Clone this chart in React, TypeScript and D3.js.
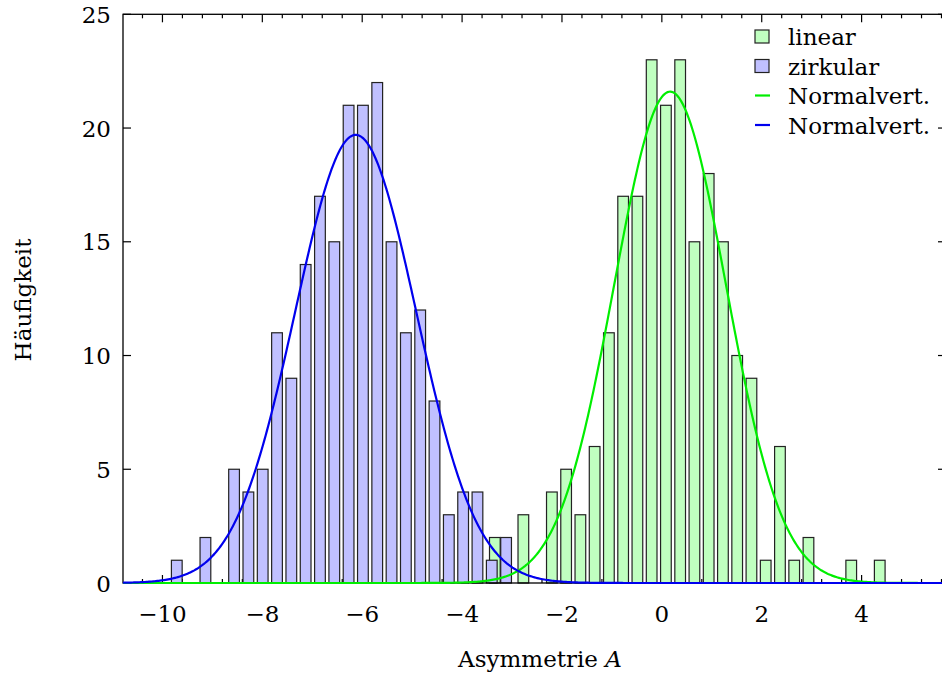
import React from "react";
import * as d3 from "d3";

// Histogram "zirkular" (blue) – counts per bin, first bin centre and bin width
const zirkCounts = [1, 0, 2, 0, 5, 4, 5, 11, 9, 14, 17, 15, 21, 21, 22, 15, 11, 12, 8, 3, 4, 4, 1, 2];
const zirkStart = -9.713;
const zirkBin = 0.2867;

// Histogram "linear" (green)
const linCounts = [2, 0, 3, 0, 4, 5, 3, 6, 11, 17, 17, 23, 21, 23, 15, 18, 15, 10, 9, 1, 6, 1, 2, 0, 0, 1, 0, 1];
const linStart = -3.344;
const linBin = 0.28545;

// Fitted normal distributions: [mean, sigma, peak height]
const linNormal = [0.165, 1.12, 21.6];
const zirkNormal = [-6.13, 1.21, 19.7];

const xMajor = [-10, -8, -6, -4, -2, 0, 2, 4];
const yMajor = [0, 5, 10, 15, 20, 25];

const legendLabels = ["linear", "zirkular", "Normalvert.", "Normalvert."];

const W = 942;
const H = 675;
const FONT = "DejaVu Serif";
const FS = 23;

export default function App() {
  const x = d3.scaleLinear().domain([-10.79, 5.69]).range([123, 946]);
  const y = d3.scaleLinear().domain([0, 25]).range([583, 14.3]);
  const [x0, x1] = x.domain();
  const xMinor = d3.range(-10.4, 5.7, 0.4).filter((v) => Math.abs(v / 2 - Math.round(v / 2)) > 0.01);
  const fmt = (v: number) => (v < 0 ? "\u2212" + Math.abs(v) : String(v));

  const bars = (counts: number[], start: number, bin: number) =>
    counts
      .map((c, i) => ({ c, cx: start + i * bin }))
      .filter((d) => d.c > 0)
      .map((d) => ({
        x: x(d.cx - bin * 0.375),
        w: x(d.cx + bin * 0.375) - x(d.cx - bin * 0.375),
        y: y(d.c),
        h: y(0) - y(d.c),
      }));

  const linBars = bars(linCounts, linStart, linBin);
  const zirkBars = bars(zirkCounts, zirkStart, zirkBin);

  const xs = d3.range(0, 601).map((i) => x0 + ((x1 - x0) * i) / 600);
  const curve = (p: number[]) =>
    d3
      .line<number>()
      .x((v) => x(v))
      .y((v) => y(p[2] * Math.exp(-0.5 * ((v - p[0]) / p[1]) ** 2)))(xs) || "";

  const left = x.range()[0];
  const right = x.range()[1];
  const top = y.range()[1];
  const bottom = y.range()[0];
  const ts = { fontFamily: FONT };

  return (
    <svg
      width={W}
      height={H}
      style={{ position: "absolute", left: 0, top: 0, background: "#fff", fontFamily: FONT }}
    >
      <rect x={0} y={0} width={W} height={H} fill="#fff" />
      {/* ticks */}
      <g stroke="#000" strokeWidth={1.2}>
        {xMajor.map((v) => (
          <g key={"xm" + v}>
            <line x1={x(v)} x2={x(v)} y1={bottom} y2={bottom - 8} />
            <line x1={x(v)} x2={x(v)} y1={top} y2={top + 8} />
          </g>
        ))}
        {xMinor.map((v, i) => (
          <g key={"xn" + i}>
            <line x1={x(v)} x2={x(v)} y1={bottom} y2={bottom - 4} />
            <line x1={x(v)} x2={x(v)} y1={top} y2={top + 4} />
          </g>
        ))}
        {yMajor.map((v) => (
          <g key={"ym" + v}>
            <line x1={left} x2={left + 8} y1={y(v)} y2={y(v)} />
            <line x1={right} x2={right - 8} y1={y(v)} y2={y(v)} />
          </g>
        ))}
      </g>
      {/* histograms */}
      <g fill="#c0ffc0" stroke="#222" strokeWidth={1.2}>
        {linBars.map((b, i) => (
          <rect key={"l" + i} x={b.x} y={b.y} width={b.w} height={b.h} />
        ))}
      </g>
      <g fill="#c0c0ff" stroke="#222" strokeWidth={1.2}>
        {zirkBars.map((b, i) => (
          <rect key={"z" + i} x={b.x} y={b.y} width={b.w} height={b.h} />
        ))}
      </g>
      {/* frame */}
      <rect x={left} y={top} width={right - left} height={bottom - top} fill="none" stroke="#000" strokeWidth={1.3} />
      {/* normal curves */}
      <path d={curve(linNormal)} fill="none" stroke="#00ee00" strokeWidth={2.2} />
      <path d={curve(zirkNormal)} fill="none" stroke="#0000ee" strokeWidth={2.2} />
      {/* tick labels */}
      <g fontSize={FS} fill="#000">
        {xMajor.map((v) => (
          <text key={"xl" + v} x={x(v)} y={622} textAnchor="middle" style={ts}>
            {fmt(v)}
          </text>
        ))}
        {yMajor.map((v) => (
          <text key={"yl" + v} x={111} y={y(v) + 8.5} textAnchor="end" style={ts}>
            {fmt(v)}
          </text>
        ))}
      </g>
      {/* axis titles */}
      <text x={540} y={667} fontSize={FS} textAnchor="middle" style={ts}>
        Asymmetrie <tspan fontStyle="italic">A</tspan>
      </text>
      <text transform="translate(31,300) rotate(-90)" fontSize={FS} textAnchor="middle" style={ts}>
        Häufigkeit
      </text>
      {/* legend */}
      <g fontSize={FS}>
        {legendLabels.map((t, i) => {
          const cy = 36.5 + i * 29.5;
          return (
            <g key={"lg" + i}>
              {i === 0 && <rect x={755} y={cy - 6.5} width={14} height={13} fill="#c0ffc0" stroke="#222" strokeWidth={1.2} />}
              {i === 1 && <rect x={755} y={cy - 6.5} width={14} height={13} fill="#c0c0ff" stroke="#222" strokeWidth={1.2} />}
              {i === 2 && <line x1={755} x2={770} y1={cy} y2={cy} stroke="#00ee00" strokeWidth={2.2} />}
              {i === 3 && <line x1={755} x2={770} y1={cy} y2={cy} stroke="#0000ee" strokeWidth={2.2} />}
              <text x={788} y={cy + 8.5} fill="#000" style={ts}>
                {t}
              </text>
            </g>
          );
        })}
      </g>
    </svg>
  );
}
